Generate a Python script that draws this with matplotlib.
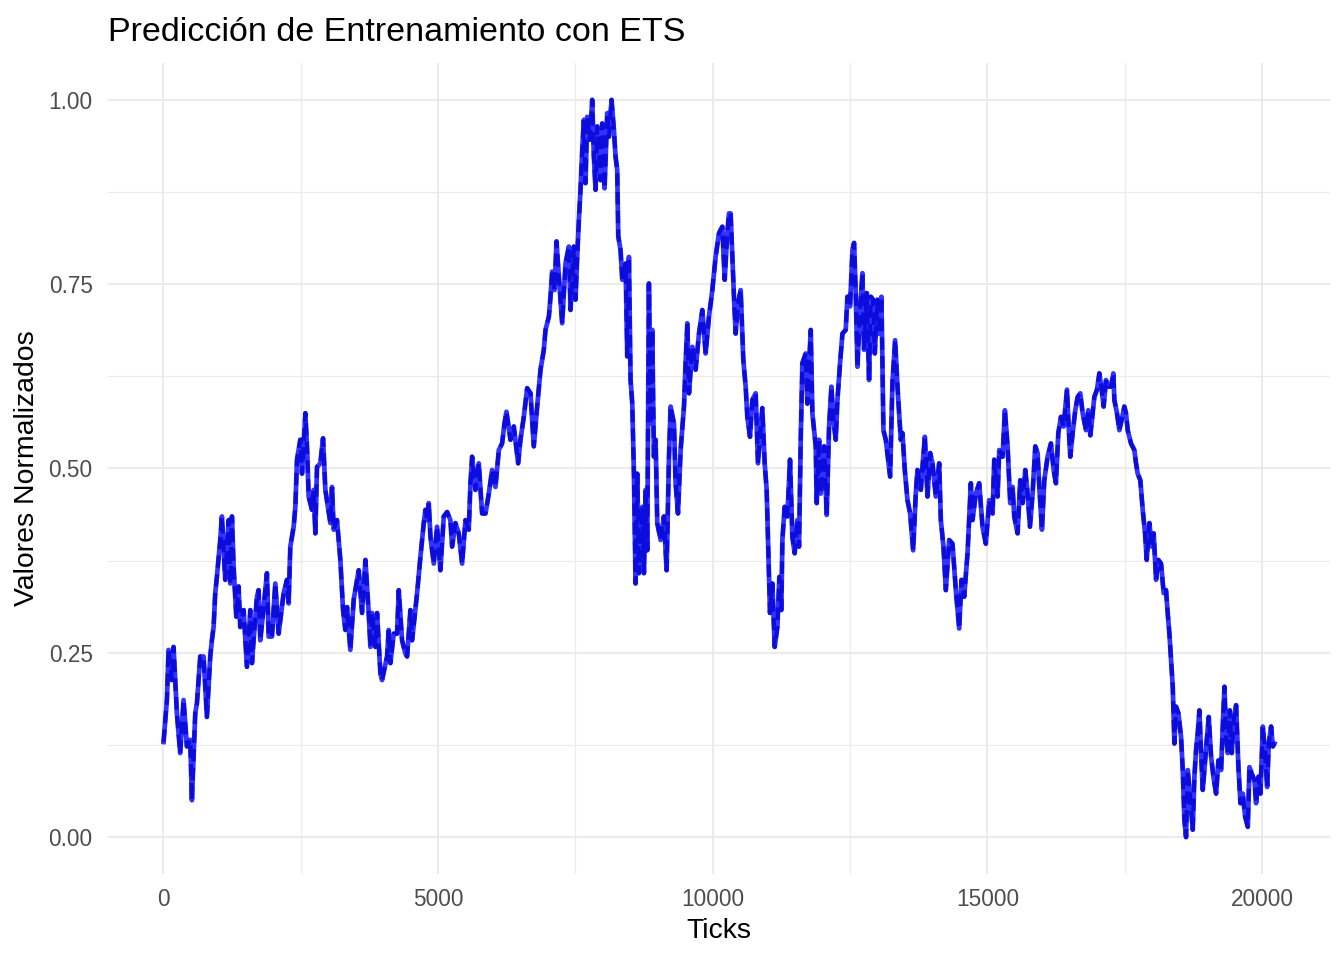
import numpy as np
import matplotlib
matplotlib.use("Agg")
import matplotlib.pyplot as plt
from matplotlib.ticker import MultipleLocator

plt.rcParams['font.family'] = ['Liberation Sans', 'DejaVu Sans']

# --- Datos (ticks, valor normalizado) ---
ticks_a = [6, 67, 97, 158, 188, 249, 309, 370, 431, 492,
           522, 583, 613, 674, 735, 795, 856, 886, 917, 947,
           977, 1038, 1068, 1129, 1190, 1220, 1251, 1281, 1330, 1372,
           1402, 1463, 1524, 1585, 1615, 1645, 1706, 1736, 1767, 1828,
           1888, 1919, 1979, 2040, 2101, 2192, 2253, 2283, 2313, 2374,
           2405, 2435, 2495, 2526, 2587, 2617, 2647, 2708, 2738, 2769,
           2799, 2860, 2909, 2951, 3042, 3072, 3103, 3163, 3224, 3273,
           3315, 3346, 3406, 3467, 3558, 3619, 3680, 3740, 3771, 3801,
           3862, 3892, 3953, 3983, 4074, 4104, 4135, 4196, 4256, 4287,
           4347, 4408, 4439, 4499, 4530, 4621, 4681, 4742, 4773, 4803,
           4833, 4864]
vals_a = [0.129, 0.186, 0.254, 0.213, 0.258, 0.168, 0.114, 0.186, 0.123, 0.132,
          0.050, 0.168, 0.181, 0.245, 0.245, 0.163, 0.245, 0.267, 0.285, 0.331,
          0.353, 0.403, 0.435, 0.349, 0.430, 0.344, 0.435, 0.367, 0.299, 0.340,
          0.285, 0.308, 0.231, 0.308, 0.236, 0.267, 0.326, 0.335, 0.267, 0.312,
          0.358, 0.272, 0.272, 0.344, 0.276, 0.331, 0.349, 0.317, 0.394, 0.421,
          0.448, 0.512, 0.539, 0.493, 0.575, 0.530, 0.462, 0.444, 0.471, 0.412,
          0.502, 0.507, 0.541, 0.471, 0.426, 0.475, 0.417, 0.430, 0.376, 0.308,
          0.281, 0.312, 0.254, 0.322, 0.362, 0.304, 0.376, 0.304, 0.258, 0.304,
          0.258, 0.304, 0.222, 0.213, 0.245, 0.281, 0.236, 0.276, 0.276, 0.335,
          0.267, 0.249, 0.245, 0.308, 0.267, 0.331, 0.380, 0.426, 0.444, 0.430,
          0.453, 0.407]

ticks_b = [4924, 4984, 5045, 5106, 5167, 5227, 5258, 5318, 5379, 5440,
           5501, 5561, 5592, 5622, 5683, 5743, 5804, 5865, 5926, 5986,
           6047, 6108, 6168, 6211, 6247, 6320, 6381, 6460, 6502, 6563,
           6624, 6685, 6745, 6806, 6867, 6927, 6958, 7019, 7049, 7079,
           7122, 7158, 7201, 7261, 7322, 7383, 7413, 7474, 7504, 7535,
           7565, 7595, 7626, 7656, 7686, 7717, 7765, 7808, 7838, 7869,
           7899, 7960, 7990, 8033, 8081, 8112, 8160, 8203, 8233, 8263,
           8282, 8324, 8355, 8415, 8446, 8476, 8506, 8537, 8567, 8597,
           8628, 8658, 8719, 8749, 8780, 8810, 8840, 8871, 8901, 8931,
           8962, 8992, 9053, 9113, 9162, 9205, 9235, 9296, 9326, 9369,
           9417, 9478, 9508, 9539, 9569, 9630, 9690, 9751, 9812, 9872,
           9933, 9994, 10054, 10115, 10176, 10219, 10267, 10297]
vals_b = [0.371, 0.421, 0.362, 0.435, 0.441, 0.430, 0.394, 0.426, 0.412, 0.371,
          0.430, 0.417, 0.480, 0.516, 0.471, 0.507, 0.439, 0.439, 0.466, 0.498,
          0.475, 0.525, 0.534, 0.561, 0.577, 0.539, 0.557, 0.507, 0.539, 0.570,
          0.609, 0.602, 0.530, 0.584, 0.634, 0.661, 0.688, 0.706, 0.733, 0.767,
          0.742, 0.808, 0.760, 0.697, 0.778, 0.801, 0.715, 0.801, 0.729, 0.787,
          0.837, 0.878, 0.932, 0.973, 0.887, 0.977, 0.946, 1.000, 0.923, 0.878,
          0.964, 0.891, 0.968, 0.880, 0.982, 0.950, 1.000, 0.959, 0.923, 0.905,
          0.815, 0.796, 0.756, 0.778, 0.652, 0.787, 0.620, 0.588, 0.493, 0.344,
          0.493, 0.358, 0.448, 0.358, 0.471, 0.389, 0.751, 0.561, 0.688, 0.516,
          0.539, 0.426, 0.403, 0.435, 0.362, 0.516, 0.584, 0.561, 0.480, 0.439,
          0.525, 0.584, 0.643, 0.697, 0.602, 0.665, 0.634, 0.683, 0.715, 0.656,
          0.706, 0.742, 0.787, 0.819, 0.828, 0.756, 0.819, 0.846]

ticks_c = [10327, 10358, 10388, 10419, 10461, 10510, 10558, 10601, 10631, 10680,
           10722, 10783, 10825, 10904, 10947, 10983, 11014, 11044, 11087, 11129,
           11178, 11214, 11250, 11269, 11311, 11360, 11408, 11451, 11493, 11542,
           11572, 11603, 11633, 11694, 11724, 11785, 11815, 11876, 11894, 11937,
           11967, 12028, 12076, 12119, 12161, 12198, 12240, 12271, 12319, 12362,
           12422, 12453, 12501, 12544, 12574, 12604, 12635, 12683, 12726, 12756,
           12805, 12847, 12878, 12920, 12951, 12999, 13030, 13072, 13108, 13151,
           13230, 13272, 13321, 13364, 13424, 13455, 13497, 13546, 13594, 13649,
           13697, 13728, 13789, 13819, 13862, 13910, 13959, 14001, 14062, 14123,
           14153, 14201, 14244, 14305, 14365, 14426, 14487, 14529, 14578, 14639,
           14699, 14730, 14790, 14851, 14912, 14972]
vals_c = [0.846, 0.787, 0.733, 0.683, 0.724, 0.742, 0.647, 0.611, 0.570, 0.543,
          0.593, 0.602, 0.507, 0.582, 0.507, 0.471, 0.385, 0.304, 0.344, 0.258,
          0.285, 0.353, 0.308, 0.403, 0.448, 0.435, 0.512, 0.407, 0.385, 0.430,
          0.394, 0.539, 0.643, 0.656, 0.588, 0.688, 0.575, 0.530, 0.453, 0.539,
          0.466, 0.530, 0.437, 0.557, 0.611, 0.566, 0.539, 0.593, 0.643, 0.683,
          0.688, 0.733, 0.720, 0.796, 0.806, 0.738, 0.638, 0.715, 0.765, 0.661,
          0.738, 0.620, 0.733, 0.729, 0.656, 0.729, 0.683, 0.733, 0.552, 0.539,
          0.489, 0.616, 0.674, 0.611, 0.539, 0.548, 0.498, 0.457, 0.439, 0.389,
          0.466, 0.498, 0.471, 0.502, 0.543, 0.462, 0.521, 0.507, 0.462, 0.507,
          0.430, 0.394, 0.335, 0.403, 0.398, 0.335, 0.283, 0.349, 0.326, 0.385,
          0.480, 0.430, 0.466, 0.480, 0.421, 0.398]

ticks_d = [15034, 15095, 15125, 15186, 15216, 15277, 15319, 15368, 15416, 15459,
           15489, 15550, 15598, 15641, 15690, 15732, 15775, 15823, 15872, 15914,
           15945, 15993, 16036, 16096, 16157, 16206, 16248, 16291, 16339, 16388,
           16449, 16479, 16509, 16552, 16600, 16643, 16691, 16734, 16795, 16837,
           16874, 16916, 16947, 16995, 17038, 17080, 17116, 17159, 17207, 17250,
           17293, 17311, 17359, 17402, 17444, 17493, 17523, 17554, 17614, 17675,
           17706, 17736, 17784, 17827, 17870, 17900, 17949, 17991, 18027, 18070,
           18112, 18161, 18209, 18252, 18282, 18313, 18343, 18374, 18404, 18434,
           18477, 18525, 18556, 18586, 18616, 18647, 18695, 18738, 18768, 18798,
           18829, 18859, 18890, 18920, 18950, 18993, 19029, 19072, 19114, 19163,
           19205, 19254, 19284, 19315, 19345, 19375, 19412, 19448, 19485, 19527,
           19569, 19606, 19648, 19691, 19740, 19770, 19812, 19861, 19891, 19934,
           19970, 20013, 20055, 20092, 20122, 20164, 20195, 20225]
vals_d = [0.457, 0.439, 0.512, 0.462, 0.525, 0.516, 0.579, 0.530, 0.453, 0.475,
          0.435, 0.412, 0.484, 0.453, 0.498, 0.466, 0.421, 0.466, 0.530, 0.521,
          0.475, 0.417, 0.484, 0.516, 0.534, 0.498, 0.480, 0.548, 0.570, 0.557,
          0.607, 0.557, 0.516, 0.548, 0.579, 0.597, 0.602, 0.575, 0.552, 0.579,
          0.545, 0.575, 0.597, 0.607, 0.629, 0.607, 0.584, 0.620, 0.611, 0.611,
          0.629, 0.593, 0.575, 0.552, 0.566, 0.584, 0.575, 0.552, 0.534, 0.525,
          0.507, 0.493, 0.484, 0.444, 0.412, 0.376, 0.426, 0.394, 0.412, 0.349,
          0.376, 0.371, 0.331, 0.335, 0.304, 0.276, 0.240, 0.204, 0.127, 0.177,
          0.168, 0.136, 0.091, 0.023, 0.000, 0.091, 0.050, 0.010, 0.082, 0.118,
          0.141, 0.172, 0.114, 0.064, 0.091, 0.132, 0.163, 0.109, 0.082, 0.059,
          0.104, 0.091, 0.150, 0.204, 0.136, 0.114, 0.172, 0.114, 0.159, 0.179,
          0.095, 0.046, 0.059, 0.028, 0.014, 0.095, 0.086, 0.077, 0.046, 0.082,
          0.059, 0.150, 0.114, 0.068, 0.127, 0.150, 0.123, 0.127]

x_major = [0, 5000, 10000, 15000, 20000]
y_major = [0.00, 0.25, 0.50, 0.75, 1.00]

ticks = np.array(ticks_a + ticks_b + ticks_c + ticks_d)
vals = np.array(vals_a + vals_b + vals_c + vals_d)

# --- Figura ---
fig = plt.figure(figsize=(13.44, 9.6), dpi=100)
ax = fig.add_axes([108 / 1344, 1 - 874 / 960, (1330 - 108) / 1344, (874 - 63) / 960])

ax.plot(ticks, vals, color='#3333ff', lw=3.4, solid_joinstyle='round', zorder=3)
ax.plot(ticks, vals, color='#0c0cdc', lw=3.0, ls=(0, (3, 1.5)), zorder=4)

# limites como ggplot (expansion 5%)
xr = ticks.max() - ticks.min()
ax.set_xlim(ticks.min() - 0.05 * xr, ticks.max() + 0.05 * xr)
ax.set_ylim(-0.05, 1.05)

ax.set_xticks(x_major)
ax.set_xticklabels([str(v) for v in x_major])
ax.set_yticks(y_major)
ax.set_yticklabels([f"{v:.2f}" for v in y_major])
ax.xaxis.set_minor_locator(MultipleLocator(2500))
ax.yaxis.set_minor_locator(MultipleLocator(0.125))

ax.grid(which='major', color='#ebebeb', lw=1.5)
ax.grid(which='minor', color='#ebebeb', lw=0.8)
ax.set_axisbelow(True)
for s in ax.spines.values():
    s.set_visible(False)
ax.tick_params(which='both', length=0)
ax.tick_params(axis='y', labelsize=16.3, labelcolor='#4d4d4d', pad=11)
ax.tick_params(axis='x', labelsize=16.3, labelcolor='#4d4d4d', pad=10)

ax.set_xlabel('Ticks', fontsize=20.4, color='black')
ax.xaxis.set_label_coords(0.5, -0.054)
ax.xaxis.label.set_va('top')
ax.set_ylabel('Valores Normalizados', fontsize=20.4, color='black')
ax.yaxis.set_label_coords(-0.056, 0.5)

fig.text(108 / 1344, 1 - 41 / 960, 'Predicción de Entrenamiento con ETS',
         fontsize=24.5, color='black', ha='left', va='baseline')

fig.savefig('out.png', dpi=100)
